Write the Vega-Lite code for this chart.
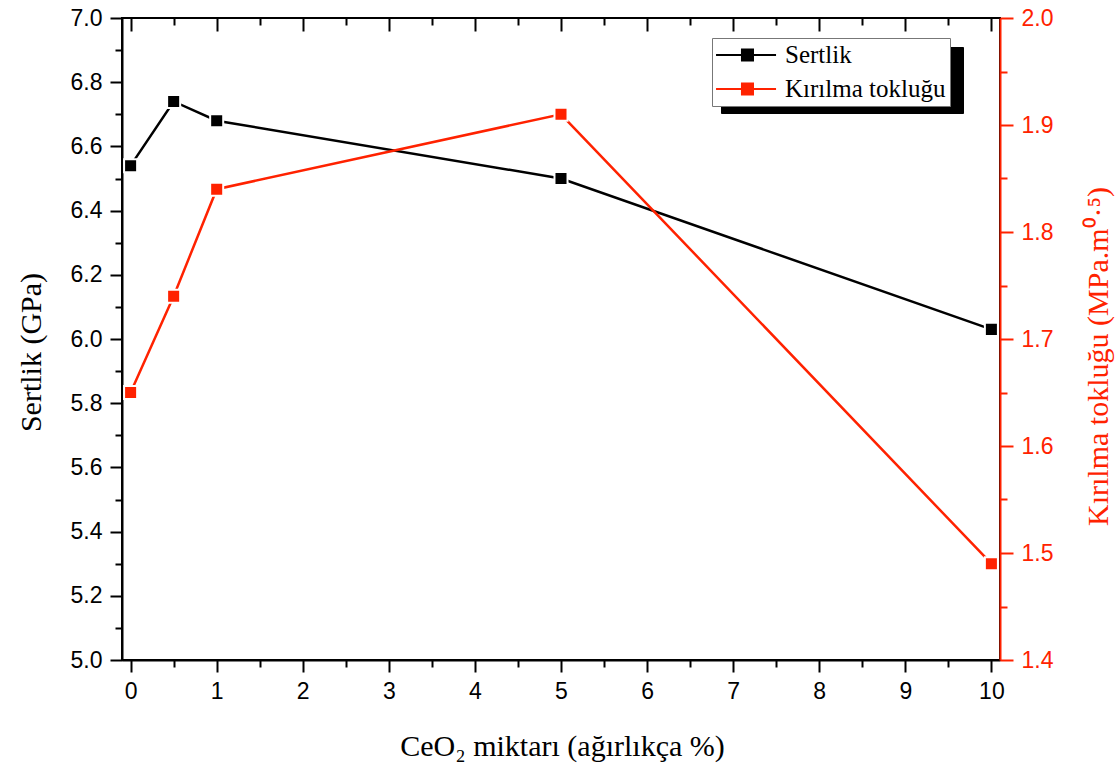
{
  "$schema": "https://vega.github.io/schema/vega-lite/v6.json",
  "width": 878,
  "height": 642,
  "autosize": "none",
  "padding": {"left": 122, "top": 18, "right": 118, "bottom": 115},
  "background": "white",
  "config": {
    "view": {"stroke": "black", "strokeWidth": 2},
    "axis": {
      "grid": false,
      "domainColor": "black",
      "domainWidth": 2,
      "tickColor": "black",
      "tickWidth": 2,
      "labelFont": "Liberation Sans",
      "labelFontSize": 23,
      "labelColor": "black",
      "labelPadding": 8,
      "titleFont": "Liberation Serif",
      "titleFontSize": 30,
      "titleFontWeight": "normal",
      "titleColor": "black"
    }
  },
  "data": {
    "values": [
      {"x": 0, "seri": "Sertlik", "v": 6.54},
      {"x": 0.5, "seri": "Sertlik", "v": 6.74},
      {"x": 1, "seri": "Sertlik", "v": 6.68},
      {"x": 5, "seri": "Sertlik", "v": 6.50},
      {"x": 10, "seri": "Sertlik", "v": 6.03},
      {"x": 0, "seri": "Kırılma tokluğu", "v": 1.65},
      {"x": 0.5, "seri": "Kırılma tokluğu", "v": 1.74},
      {"x": 1, "seri": "Kırılma tokluğu", "v": 1.84},
      {"x": 5, "seri": "Kırılma tokluğu", "v": 1.91},
      {"x": 10, "seri": "Kırılma tokluğu", "v": 1.49}
    ]
  },
  "encoding": {
    "x": {
      "field": "x",
      "type": "quantitative",
      "scale": {"domain": [-0.1, 10.1], "nice": false, "zero": false},
      "axis": {
        "orient": "bottom",
        "values": [0, 0.5, 1, 1.5, 2, 2.5, 3, 3.5, 4, 4.5, 5, 5.5, 6, 6.5, 7, 7.5, 8, 8.5, 9, 9.5, 10],
        "labelExpr": "round(datum.value*2)%2==0 ? format(datum.value,'d') : ''",
        "tickSize": {"condition": {"test": "round(datum.value*2)%2==0", "value": 12}, "value": 7},
        "title": "CeO₂ miktarı (ağırlıkça %)",
        "titleX": 440,
        "titleY": 95,
        "titleBaseline": "alphabetic",
        "titleAlign": "center"
      }
    }
  },
  "layer": [
    {
      "transform": [{"filter": "datum.seri === 'Sertlik'"}],
      "encoding": {
        "y": {
          "field": "v",
          "type": "quantitative",
          "scale": {"domain": [5, 7], "nice": false, "zero": false},
          "axis": {
            "orient": "left",
            "values": [5, 5.1, 5.2, 5.3, 5.4, 5.5, 5.6, 5.7, 5.8, 5.9, 6, 6.1, 6.2, 6.3, 6.4, 6.5, 6.6, 6.7, 6.8, 6.9, 7],
            "labelExpr": "round(datum.value*10)%2==0 ? format(datum.value,'.1f') : ''",
            "tickSize": {"condition": {"test": "round(datum.value*10)%2==0", "value": 12}, "value": 7},
            "title": "Sertlik (GPa)",
            "titleX": -82,
            "titleY": 334,
            "titleAngle": -90,
            "titleBaseline": "alphabetic",
            "titleAlign": "center"
          }
        }
      },
      "layer": [
        {
          "mark": {"type": "point", "opacity": 0, "filled": true, "size": 10, "color": "black"},
          "encoding": {
            "shape": {
              "field": "seri",
              "type": "nominal",
              "scale": {
                "domain": ["Kırılma tokluğu", "Sertlik"],
                "range": ["M-1,-1H18.4V1.33H-1Z", "M-1,-1H18.4V1.33H-1Z"]
              },
              "legend": {
                "title": null,
                "orient": "none",
                "legendX": 599,
                "legendY": 29,
                "symbolSize": 576,
                "symbolOpacity": 1,
                "symbolFillColor": "black",
                "symbolStrokeColor": "black",
                "symbolStrokeWidth": 0,
                "labelExpr": "''",
                "labelFontSize": 25,
                "labelOffset": 0,
                "strokeColor": "black",
                "fillColor": "black",
                "padding": 4,
                "rowPadding": 0,
                "encode": {
                  "symbols": {
                    "update": {
                      "fill": {"value": "black"},
                      "stroke": {"value": "black"},
                      "opacity": {"value": 1}
                    }
                  }
                }
              }
            }
          }
        },
        {
          "mark": {"type": "line", "strokeWidth": 2.5},
          "encoding": {
            "color": {
              "field": "seri",
              "type": "nominal",
              "scale": {"domain": ["Sertlik", "Kırılma tokluğu"], "range": ["#000000", "#ff2200"]},
              "legend": {
                "title": null,
                "orient": "none",
                "legendX": 590,
                "legendY": 20,
                "symbolType": "M-1.08,0H3.92M1.08,-0.46H2.0V0.46H1.08Z",
                "symbolSize": 576,
                "symbolStrokeWidth": 2,
                "labelFont": "Liberation Serif",
                "labelFontSize": 25,
                "labelColor": "black",
                "labelOffset": 43,
                "labelLimit": 400,
                "strokeColor": "#777777",
                "fillColor": "white",
                "padding": 4,
                "rowPadding": 8,
                "encode": {
                  "symbols": {
                    "update": {
                      "fill": {"scale": "color", "field": "value"},
                      "stroke": {"scale": "color", "field": "value"},
                      "opacity": {"value": 1}
                    }
                  }
                }
              }
            }
          }
        },
        {
          "mark": {"type": "point", "shape": "square", "filled": true, "size": 170, "opacity": 1, "stroke": "white", "strokeWidth": 2},
          "encoding": {"color": {"field": "seri", "type": "nominal"}}
        }
      ]
    },
    {
      "transform": [{"filter": "datum.seri === 'Kırılma tokluğu'"}],
      "encoding": {
        "x": {
          "field": "x",
          "type": "quantitative",
          "scale": {"domain": [-0.1, 10.1], "nice": false, "zero": false},
          "axis": {
            "orient": "top",
            "values": [0, 0.5, 1, 1.5, 2, 2.5, 3, 3.5, 4, 4.5, 5, 5.5, 6, 6.5, 7, 7.5, 8, 8.5, 9, 9.5, 10],
            "labels": false,
            "domain": false,
            "title": null,
            "tickSize": {"condition": {"test": "round(datum.value*2)%2==0", "value": -13}, "value": -7}
          }
        },
        "y": {
          "field": "v",
          "type": "quantitative",
          "scale": {"domain": [1.4, 2.0], "nice": false, "zero": false},
          "axis": {
            "orient": "right",
            "values": [1.4, 1.45, 1.5, 1.55, 1.6, 1.65, 1.7, 1.75, 1.8, 1.85, 1.9, 1.95, 2.0],
            "labelExpr": "round(datum.value*20)%2==0 ? format(datum.value,'.1f') : ''",
            "tickSize": {"condition": {"test": "round(datum.value*20)%2==0", "value": 13}, "value": 7},
            "domainColor": "#ff2200",
            "tickColor": "#ff2200",
            "labelColor": "#ff2200",
            "titleColor": "#ff2200",
            "title": "Kırılma tokluğu (MPa.m⁰·⁵)",
            "titleX": 107,
            "titleY": 338,
            "titleAngle": -90,
            "titleBaseline": "alphabetic",
            "titleAlign": "center"
          }
        },
        "color": {"field": "seri", "type": "nominal"}
      },
      "layer": [
        {"mark": {"type": "line", "strokeWidth": 2.5}, "encoding": {}},
        {"mark": {"type": "point", "shape": "square", "filled": true, "size": 170, "opacity": 1, "stroke": "white", "strokeWidth": 2}, "encoding": {}}
      ]
    }
  ],
  "resolve": {"scale": {"y": "independent"}, "axis": {"x": "independent"}}
}
